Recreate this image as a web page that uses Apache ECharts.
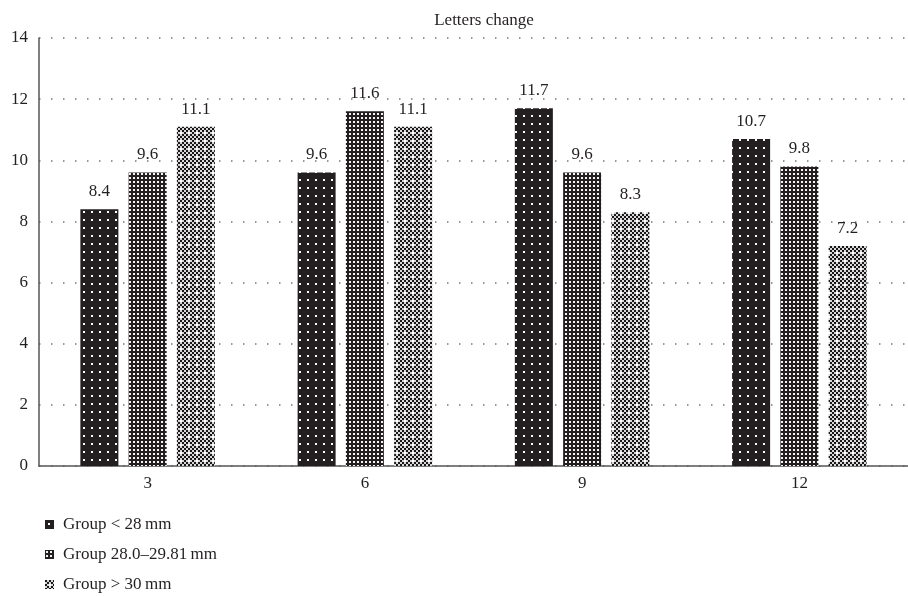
<!DOCTYPE html>
<html>
<head>
<meta charset="utf-8">
<script src="https://cdn.jsdelivr.net/npm/echarts@6/dist/echarts.min.js"></script>
<style>html,body{margin:0;padding:0;background:#fff}#c{width:908px;height:596px}</style>
</head>
<body>
<div id="c"></div>
<script>
const categories = ['3', '6', '9', '12'];
const seriesNames = ['Group < 28\u2009mm', 'Group 28.0\u201329.81\u2009mm', 'Group > 30\u2009mm'];
const groupSmall = [8.4, 9.6, 11.7, 10.7];
const groupMid = [9.6, 11.6, 9.6, 9.8];
const groupLarge = [11.1, 11.1, 8.3, 7.2];
const yTicks = [0, 2, 4, 6, 8, 10, 12, 14];

function makePattern(kind) {
  const c = document.createElement('canvas');
  const ctx = c.getContext('2d');
  if (kind === 1) {
    c.width = 8; c.height = 8;
    ctx.fillStyle = '#231f20'; ctx.fillRect(0, 0, 8, 8);
    ctx.fillStyle = '#ffffff'; ctx.fillRect(3, 3, 2, 2);
  } else if (kind === 2) {
    c.width = 4; c.height = 4;
    ctx.fillStyle = '#231f20'; ctx.fillRect(0, 0, 4, 4);
    ctx.fillStyle = '#f4f4f4'; ctx.fillRect(1, 1, 2, 2);
  } else {
    c.width = 8; c.height = 8;
    ctx.fillStyle = '#d8d8d8'; ctx.fillRect(0, 0, 8, 8);
    ctx.fillStyle = '#1a1718';
    for (let y = 0; y < 8; y += 2) {
      for (let x = 0; x < 8; x += 2) {
        if (((x + y) / 2) % 2 === 0) ctx.fillRect(x, y, 2, 2);
      }
    }
    ctx.fillStyle = '#ffffff';
    ctx.fillRect(4, 4, 2, 2);
  }
  return { image: c, repeat: 'repeat' };
}

const font = 'Liberation Serif';
const txt = '#231f20';
const chart = echarts.init(document.getElementById('c'), null, { renderer: 'canvas' });

const values = [groupSmall, groupMid, groupLarge];
const series = values.map((v, i) => ({
  name: seriesNames[i],
  type: 'bar',
  data: v,
  barWidth: 38,
  barGap: '27%',
  itemStyle: { color: makePattern(i + 1) },
  label: {
    show: true, position: 'top', distance: 9,
    fontFamily: font, fontSize: 17, color: txt,
    formatter: p => p.value.toFixed(1)
  }
}));

const legends = seriesNames.map((n, i) => ({
  orient: 'vertical', left: 40, top: 511 + i * 30, itemWidth: 9, itemHeight: 9,
  icon: 'rect',
  textStyle: { fontFamily: font, fontSize: 17, color: txt, padding: [0, 0, 0, 4] },
  data: [n]
}));

chart.setOption({
  animation: false,
  title: {
    text: 'Letters change', left: 479, top: 7, textAlign: 'center',
    textStyle: { fontFamily: font, fontSize: 17, fontWeight: 'normal', color: txt }
  },
  legend: legends,
  grid: { left: 39, top: 38, width: 881, height: 428, containLabel: false },
  xAxis: {
    type: 'category', data: categories,
    axisLine: { lineStyle: { color: '#555', width: 1.5 } },
    axisTick: { show: false },
    axisLabel: { fontFamily: font, fontSize: 17, color: txt, margin: 9 }
  },
  yAxis: {
    type: 'value', min: yTicks[0], max: yTicks[yTicks.length - 1], interval: 2,
    axisLine: { show: true, lineStyle: { color: '#555', width: 1.5 } },
    axisTick: { show: false },
    axisLabel: { fontFamily: font, fontSize: 17, color: txt, margin: 11 },
    splitLine: { show: true, lineStyle: { color: '#777', width: 1.5, type: [1.5, 10.5], dashOffset: 0 } }
  },
  series: series
});
</script>
</body>
</html>
